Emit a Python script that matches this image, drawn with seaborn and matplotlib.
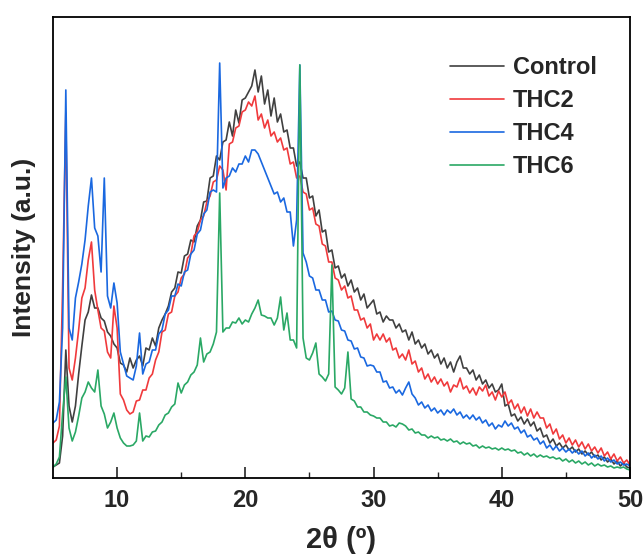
import numpy as np
import pandas as pd
import matplotlib
matplotlib.use("Agg")
import matplotlib.pyplot as plt
import seaborn as sns
from matplotlib import font_manager

# 2θ sampling grid (degrees)
two_theta = np.arange(5.0, 50.001, 0.25)

series_names = ["Control", "THC2", "THC4", "THC6"]

control = [
    11, 13, 15, 42, 128, 72, 56, 72, 104, 132,
    158, 166, 183, 170, 170, 160, 157, 146, 142, 134,
    130, 115, 113, 106, 120, 110, 118, 122, 112, 130,
    128, 140, 132, 150, 158, 164, 172, 186, 190, 206,
    205, 222, 224, 238, 236, 252, 258, 276, 277, 300,
    302, 322, 318, 336, 338, 356, 342, 368, 355, 378,
    380, 386, 392, 408, 386, 402, 374, 388, 362, 380,
    356, 364, 346, 348, 330, 330, 312, 316, 300, 300,
    280, 282, 262, 268, 246, 248, 226, 228, 210, 212,
    200, 204, 192, 198, 186, 190, 178, 184, 170, 174,
    178, 164, 166, 156, 162, 158, 158, 150, 154, 146,
    148, 138, 146, 134, 138, 130, 134, 124, 128, 120,
    124, 114, 120, 110, 116, 106, 116, 122, 110, 110,
    104, 108, 98, 103, 94, 98, 90, 94, 86, 88,
    94, 72, 74, 62, 64, 57, 61, 54, 59, 52,
    56, 47, 50, 41, 43, 35, 39, 32, 35, 30,
    33, 28, 31, 26, 29, 24, 27, 23, 26, 21,
    23, 18, 21, 16, 19, 14, 17, 12, 15, 11,
    10,
]

thc2 = [
    35, 38, 52, 190, 365, 110, 98, 120, 148, 180,
    190, 218, 236, 188, 168, 150, 147, 126, 120, 172,
    150, 84, 78, 68, 64, 66, 77, 78, 88, 88,
    100, 104, 118, 126, 146, 148, 164, 166, 182, 186,
    200, 204, 220, 224, 242, 246, 258, 262, 276, 282,
    296, 298, 312, 308, 288, 334, 336, 350, 352, 366,
    368, 376, 372, 382, 358, 364, 350, 358, 342, 346,
    336, 340, 328, 330, 314, 316, 300, 302, 286, 284,
    268, 270, 254, 252, 234, 232, 216, 216, 200, 198,
    188, 192, 180, 182, 168, 168, 158, 160, 150, 154,
    138, 144, 138, 144, 136, 140, 128, 130, 120, 124,
    118, 128, 114, 117, 106, 110, 99, 104, 96, 101,
    94, 99, 92, 96, 86, 93, 91, 100, 89, 92,
    85, 90, 83, 91, 87, 93, 82, 86, 78, 87,
    81, 86, 74, 78, 69, 74, 65, 71, 62, 69,
    60, 66, 60, 60, 50, 54, 44, 49, 39, 43,
    35, 40, 33, 38, 31, 36, 29, 34, 27, 31,
    25, 30, 22, 26, 19, 24, 17, 21, 15, 18,
    13,
]

thc4 = [
    55, 58, 76, 150, 388, 150, 138, 180, 196, 214,
    238, 272, 300, 250, 242, 206, 300, 182, 170, 195,
    175, 126, 114, 102, 100, 98, 112, 145, 104, 114,
    116, 128, 128, 144, 148, 164, 168, 182, 182, 194,
    192, 206, 208, 224, 228, 244, 248, 264, 268, 286,
    288, 286, 415, 290, 300, 302, 310, 306, 314, 314,
    322, 316, 328, 328, 324, 316, 308, 300, 292, 284,
    286, 276, 280, 266, 266, 232, 258, 413, 225, 216,
    202, 200, 188, 188, 178, 178, 166, 167, 158, 157,
    148, 147, 138, 137, 129, 130, 121, 120, 112, 113,
    112, 106, 106, 96, 97, 90, 91, 85, 88, 83,
    90, 96, 84, 80, 73, 76, 70, 73, 67, 70,
    65, 68, 63, 68, 65, 69, 63, 66, 60, 63,
    59, 63, 58, 61, 55, 58, 52, 55, 49, 53,
    51, 57, 52, 55, 49, 51, 45, 48, 41, 43,
    38, 40, 34, 37, 30, 33, 28, 32, 27, 30,
    26, 29, 25, 28, 24, 27, 22, 25, 20, 23,
    19, 22, 17, 20, 16, 18, 14, 16, 13, 14,
    12,
]

thc6 = [
    11, 14, 21, 65, 101, 50, 37, 46, 62, 80,
    86, 96, 90, 86, 108, 72, 64, 50, 56, 65,
    50, 40, 35, 32, 32, 33, 37, 65, 37, 42,
    41, 46, 47, 53, 56, 63, 65, 71, 74, 95,
    85, 93, 96, 103, 106, 113, 140, 116, 124, 126,
    134, 146, 285, 146, 150, 150, 156, 155, 160, 154,
    158, 156, 164, 170, 178, 163, 162, 160, 160, 153,
    160, 181, 148, 165, 138, 138, 130, 413, 140, 120,
    118, 125, 135, 104, 101, 97, 104, 213, 91, 88,
    84, 90, 126, 79, 77, 71, 71, 66, 66, 63,
    62, 60, 60, 56, 56, 52, 53, 51, 55, 54,
    52, 48, 49, 45, 46, 43, 43, 40, 42, 40,
    41, 38, 39, 37, 39, 36, 37, 34, 36, 34,
    35, 32, 33, 30, 32, 30, 31, 29, 30, 28,
    30, 28, 29, 27, 28, 25, 26, 23, 25, 22,
    24, 21, 23, 21, 22, 20, 21, 19, 20, 17,
    19, 16, 18, 15, 17, 14, 16, 13, 15, 12,
    14, 12, 13, 11, 12, 10, 11, 10, 11, 9,
    8,
]

x_ticks = [10, 20, 30, 40, 50]
colors = ["#404040", "#f03a3c", "#1a68e0", "#2aa865"]

frames = []
for name, vals in zip(series_names, [control, thc2, thc4, thc6]):
    frames.append(pd.DataFrame({"two_theta": two_theta, "intensity": vals, "sample": name}))
df = pd.concat(frames, ignore_index=True)

sns.set_style("ticks")
plt.rcParams["font.family"] = ["Liberation Sans", "DejaVu Sans"]
plt.rcParams["font.weight"] = "bold"

installed = {f.name for f in font_manager.fontManager.ttflist}
narrow = ["Liberation Sans Narrow", "Liberation Sans", "DejaVu Sans"] \
    if "Liberation Sans Narrow" in installed else ["Liberation Sans", "DejaVu Sans"]

fig = plt.figure(figsize=(6.43, 5.56), dpi=100)
ax = fig.add_axes([53 / 643, 78 / 556, 577 / 643, 461 / 556])

sns.lineplot(data=df, x="two_theta", y="intensity", hue="sample",
             hue_order=series_names, palette=colors, sort=False,
             estimator=None, linewidth=1.2, ax=ax)

ax.set_xlim(5, 50)
ax.set_ylim(0, 461)
ax.set_xticks(x_ticks)
ax.set_xticks([15, 25, 35, 45], minor=True)
ax.set_yticks([])
ax.tick_params(axis="x", which="major", direction="in", length=8, width=1.2,
               pad=8)
ax.tick_params(axis="x", which="minor", direction="in", length=4, width=1.0)
ax.set_xticklabels([str(t) for t in x_ticks], family=narrow, fontsize=17,
                   fontweight="bold")
for sp in ax.spines.values():
    sp.set_visible(True)
    sp.set_linewidth(1.3)
    sp.set_color("black")

ax.set_xlabel("2θ (º)", fontsize=21, fontweight="bold", family=narrow)
ax.xaxis.set_label_coords(0.5, -0.105)
ax.set_ylabel("Intensity (a.u.)", fontsize=19, fontweight="bold")
ax.yaxis.set_label_coords(-0.03, 0.5)

handles, labels = ax.get_legend_handles_labels()
ax.legend(handles, labels, loc="upper left", bbox_to_anchor=(0.688, 0.915),
          frameon=False, handlelength=2.3, handletextpad=0.35,
          labelspacing=0.42, borderpad=0, borderaxespad=0,
          prop={"weight": "bold", "size": 17})
for line in ax.get_legend().get_lines():
    line.set_linewidth(1.2)

fig.savefig("out.png", dpi=100)
